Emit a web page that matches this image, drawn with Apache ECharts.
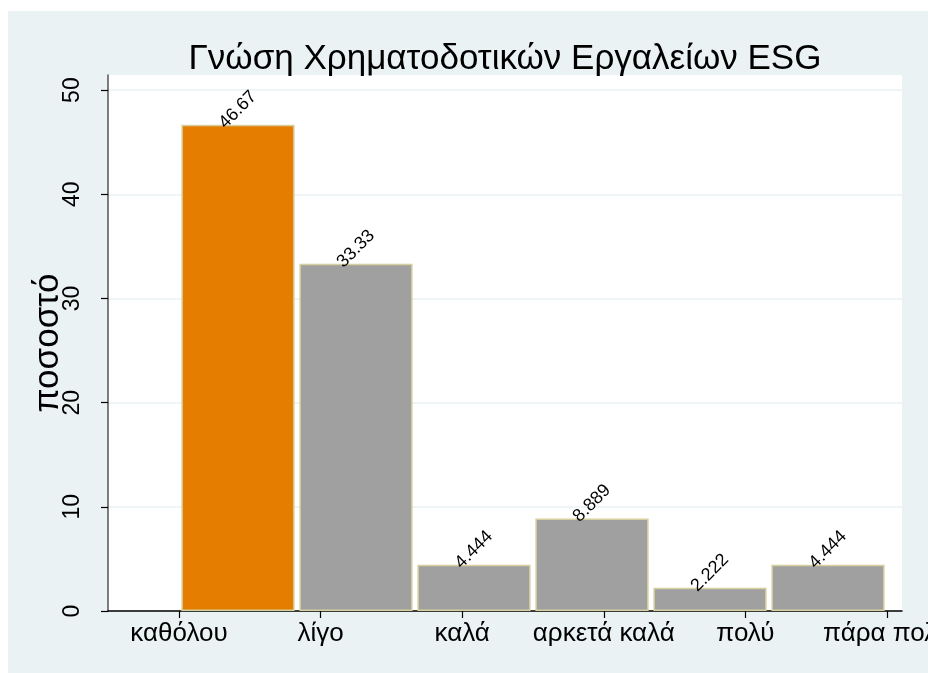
<!DOCTYPE html>
<html>
<head>
<meta charset="utf-8">
<script src="https://cdn.jsdelivr.net/npm/echarts@6/dist/echarts.min.js"></script>
<style>
html,body{margin:0;padding:0;background:#ffffff;overflow:hidden;}
#chart{position:absolute;left:8px;top:11px;width:920px;height:662px;}
</style>
</head>
<body>
<div id="chart"></div>
<script>
const categories = ["καθόλου", "λίγο", "καλά", "αρκετά καλά", "πολύ", "πάρα πολύ"];
const percentValues = [46.67, 33.33, 4.444, 8.889, 2.222, 4.444];
const valueLabels = ["46.67", "33.33", "4.444", "8.889", "2.222", "4.444"];
const yTickValues = [0, 10, 20, 30, 40, 50];
const titleText = "Γνώση Χρηματοδοτικών Εργαλείων ESG";
const yAxisName = "ποσοστό";

const FONT = "Liberation Sans, Arial, sans-serif";
const BG = "#EAF2F3";
const ORANGE = "#E57E00";
const GRAY = "#A0A0A0";
const EDGE = "#D6CF9E";
const YMAX = 51.45;

const chart = echarts.init(document.getElementById('chart'), null, {renderer: 'canvas'});

const option = {
  backgroundColor: BG,
  animation: false,
  title: {
    text: titleText,
    left: 492,
    top: 26,
    textAlign: 'center',
    textStyle: {fontFamily: FONT, fontSize: 35, fontWeight: 'normal', color: '#000'}
  },
  grid: [
    {left: 100, right: 26, top: 64, bottom: 62, show: true, backgroundColor: '#ffffff', borderWidth: 0, containLabel: false, outerBoundsMode: 'none'},
    {left: 171, right: 41, top: 64, bottom: 62, show: false, containLabel: false, outerBoundsMode: 'none'}
  ],
  xAxis: [
    {
      type: 'value', gridIndex: 0, min: 0, max: 1, position: 'bottom',
      axisLine: {show: true, lineStyle: {color: '#000', width: 1.5}},
      axisTick: {show: false}, axisLabel: {show: false}, splitLine: {show: false}
    },
    {
      type: 'category', gridIndex: 1, data: categories, boundaryGap: true, position: 'bottom',
      axisLine: {show: false}, axisTick: {show: false}, axisLabel: {show: false}, splitLine: {show: false}
    },
    {
      type: 'category', gridIndex: 1, data: categories, boundaryGap: false, position: 'bottom',
      axisLine: {show: false},
      axisTick: {show: true, length: 7, lineStyle: {color: '#000', width: 1.2}},
      axisLabel: {show: true, interval: 0, margin: 10, fontFamily: FONT, fontSize: 26, color: '#000'},
      splitLine: {show: false}
    }
  ],
  yAxis: [
    {
      type: 'value', gridIndex: 0, min: 0, max: YMAX, position: 'left',
      name: yAxisName, nameLocation: 'middle', nameGap: 42, nameRotate: 90, nameMoveOverlap: false,
      nameTextStyle: {fontFamily: FONT, fontSize: 35, color: '#000'},
      axisLine: {show: true, lineStyle: {color: '#555', width: 1.5}},
      axisTick: {show: true, length: 7, customValues: yTickValues, lineStyle: {color: '#000', width: 1.2}},
      axisLabel: {show: true, customValues: yTickValues, rotate: 90, margin: 24, fontFamily: FONT, fontSize: 23, color: '#000'},
      splitLine: {show: true, lineStyle: {color: BG, width: 1.5}}
    },
    {
      type: 'value', gridIndex: 1, min: 0, max: YMAX, show: false,
      splitLine: {show: false}
    }
  ],
  series: [
    {
      type: 'bar',
      xAxisIndex: 1,
      yAxisIndex: 1,
      barCategoryGap: '4%',
      data: percentValues.map((v, i) => ({
        value: v,
        itemStyle: {color: i === 0 ? ORANGE : GRAY, borderColor: EDGE, borderWidth: 1.5}
      })),
      label: {
        show: true,
        position: 'top',
        distance: 15,
        rotate: 45,
        align: 'center',
        verticalAlign: 'middle',
        fontFamily: FONT,
        fontSize: 18,
        color: '#000',
        formatter: (p) => valueLabels[p.dataIndex]
      }
    }
  ]
};
chart.setOption(option);
</script>
</body>
</html>
